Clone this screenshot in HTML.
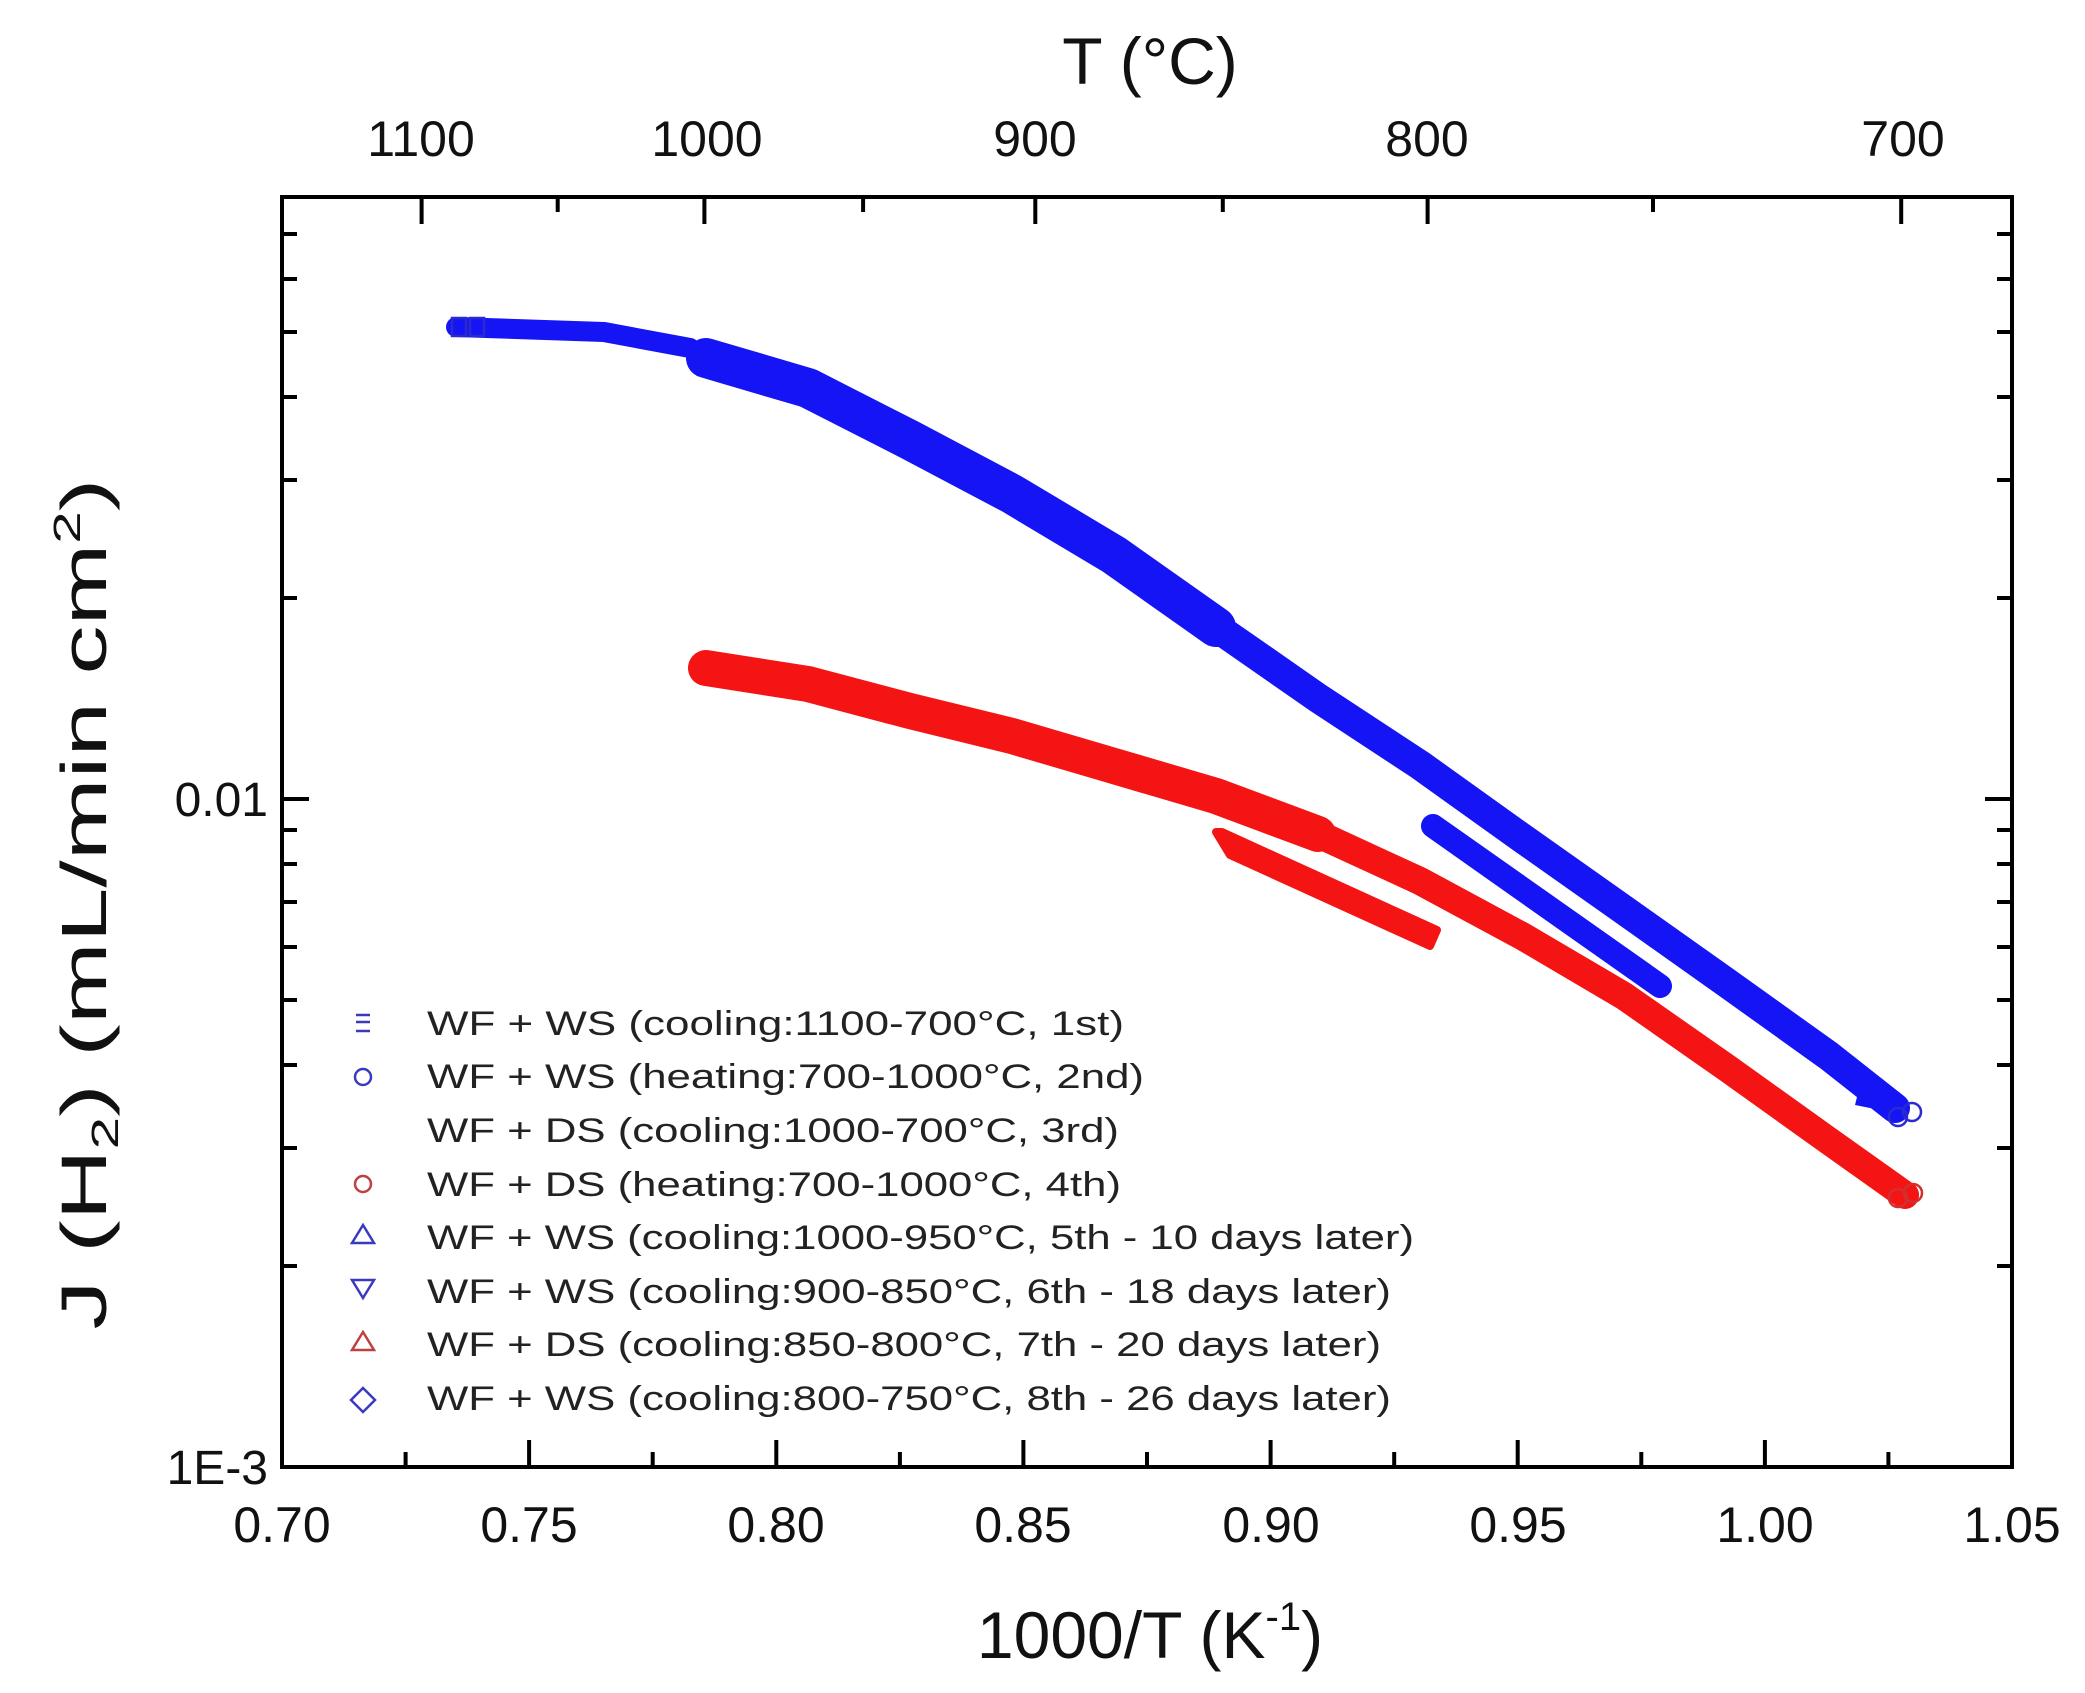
<!DOCTYPE html>
<html><head><meta charset="utf-8"><style>html,body{margin:0;padding:0;background:#fff}svg{display:block}</style></head>
<body>
<svg width="2085" height="1693" viewBox="0 0 2085 1693" xmlns="http://www.w3.org/2000/svg" font-family="Liberation Sans, sans-serif">
<rect width="2085" height="1693" fill="#fff"/>
<g fill="none" stroke-linecap="round" stroke-linejoin="round">
<polyline stroke="#1414f5" stroke-width="20" points="456,327 604,332 690,348"/>
<polyline stroke="#1414f5" stroke-width="40" points="706,358 808,388 910,440 1012,494 1114,555 1216,627"/>
<polyline stroke="#1414f5" stroke-width="30" points="1216,627 1318,698 1420,765 1522,838 1624,910 1727,983 1829,1056 1895,1108"/>
<polyline stroke="#1414f5" stroke-width="24" points="1433,826 1660,986"/>
<polyline stroke="#f51414" stroke-width="36" points="706,668 808,684 910,711 1012,736 1114,766 1216,796 1318,834"/>
<polyline stroke="#f51414" stroke-width="28" points="1318,834 1420,881 1522,936 1624,996 1727,1068 1829,1141 1905,1195"/>
</g>
<path d="M1216,832 L1230,855 L1430,946 L1437,930 L1222,832 Z" fill="#f51414" stroke="#f51414" stroke-width="8" stroke-linejoin="round"/>
<path d="M1860,1085 L1885,1095 L1880,1110 L1855,1105 Z" fill="#1414f5"/>
<g fill="none" stroke="#2a2ad0" stroke-width="2.5">
<rect x="452" y="318" width="14" height="18"/><rect x="470" y="318" width="14" height="18"/>
<circle cx="1898" cy="1117" r="9"/><circle cx="1912" cy="1112" r="9"/>
</g>
<g fill="none" stroke="#d03030" stroke-width="2.5">
<circle cx="1898" cy="1198" r="9"/><circle cx="1913" cy="1193" r="9"/>
</g>
<rect x="282" y="197" width="1730" height="1270" fill="none" stroke="#000" stroke-width="4"/>
<g stroke="#000" stroke-width="4">
<path d="M529.1,1467v-27M776.3,1467v-27M1023.4,1467v-27M1270.6,1467v-27M1517.7,1467v-27M1764.9,1467v-27"/>
<path d="M405.6,1467v-15M652.7,1467v-15M899.9,1467v-15M1147,1467v-15M1394.2,1467v-15M1641.3,1467v-15M1888.4,1467v-15"/>
<path d="M421.6,197v27M704.4,197v27M1035.3,197v27M1427.6,197v27M1901.2,197v27"/>
<path d="M557.7,197v15M863.1,197v15M1222.8,197v15M1653,197v15"/>
<path d="M282,799h27M2012,799h-27"/>
<path d="M282,1266h15M282,1148h15M282,1065h15M282,1000h15M282,947h15M282,902h15M282,864h15M282,830h15M282,598h15M282,480h15M282,397h15M282,332h15M282,279h15M282,234h15"/>
<path d="M2012,1266h-15M2012,1148h-15M2012,1065h-15M2012,1000h-15M2012,947h-15M2012,902h-15M2012,864h-15M2012,830h-15M2012,598h-15M2012,480h-15M2012,397h-15M2012,332h-15M2012,279h-15M2012,234h-15"/>
</g>
<g font-size="50" fill="#111" text-anchor="middle">
<text x="282" y="1542">0.70</text><text x="529" y="1542">0.75</text><text x="776" y="1542">0.80</text><text x="1023" y="1542">0.85</text><text x="1271" y="1542">0.90</text><text x="1518" y="1542">0.95</text><text x="1765" y="1542">1.00</text><text x="2012" y="1542">1.05</text>
<text x="421" y="156">1100</text><text x="707" y="156">1000</text><text x="1035" y="156">900</text><text x="1427" y="156">800</text><text x="1903" y="156">700</text>
</g>
<g font-size="48" fill="#111" text-anchor="end">
<text x="268" y="816">0.01</text><text x="268" y="1484">1E-3</text>
</g>
<text x="1150" y="1658" font-size="66" text-anchor="middle" fill="#111">1000/T (K<tspan font-size="40" dy="-28">-1</tspan><tspan dy="28">)</tspan></text>
<text x="1150" y="84" font-size="66" text-anchor="middle" fill="#111">T (°C)</text>
<text transform="translate(106,904) rotate(-90)" font-size="64" text-anchor="middle" fill="#111" textLength="851" lengthAdjust="spacingAndGlyphs">J (H<tspan font-size="38" dy="12">2</tspan><tspan dy="-12">) (mL/min cm</tspan><tspan font-size="38" dy="-26">2</tspan><tspan dy="26">)</tspan></text>
<g font-size="34" fill="#222">
<text x="427" y="1035" textLength="697" lengthAdjust="spacingAndGlyphs">WF + WS (cooling:1100-700°C, 1st)</text>
<text x="427" y="1088" textLength="717" lengthAdjust="spacingAndGlyphs">WF + WS (heating:700-1000°C, 2nd)</text>
<text x="427" y="1142" textLength="692" lengthAdjust="spacingAndGlyphs">WF + DS (cooling:1000-700°C, 3rd)</text>
<text x="427" y="1196" textLength="694" lengthAdjust="spacingAndGlyphs">WF + DS (heating:700-1000°C, 4th)</text>
<text x="427" y="1249" textLength="987" lengthAdjust="spacingAndGlyphs">WF + WS (cooling:1000-950°C, 5th - 10 days later)</text>
<text x="427" y="1303" textLength="964" lengthAdjust="spacingAndGlyphs">WF + WS (cooling:900-850°C, 6th - 18 days later)</text>
<text x="427" y="1356" textLength="954" lengthAdjust="spacingAndGlyphs">WF + DS (cooling:850-800°C, 7th - 20 days later)</text>
<text x="427" y="1410" textLength="964" lengthAdjust="spacingAndGlyphs">WF + WS (cooling:800-750°C, 8th - 26 days later)</text>
</g>
<g fill="none" stroke-width="2.5">
<path d="M356,1015h14M356,1022h14M356,1031h14" stroke="#3a3ac0"/>
<circle cx="363" cy="1077" r="8" stroke="#3a3ac0"/>
<circle cx="363" cy="1184" r="8" stroke="#c04040"/>
<path d="M352,1243h22l-11,-18z" stroke="#3a3ac0"/>
<path d="M352,1280h22l-11,18z" stroke="#3a3ac0"/>
<path d="M352,1350h22l-11,-18z" stroke="#c04040"/>
<path d="M363,1388l12,12l-12,12l-12,-12z" stroke="#3a3ac0"/>
</g>
</svg>
</body></html>
